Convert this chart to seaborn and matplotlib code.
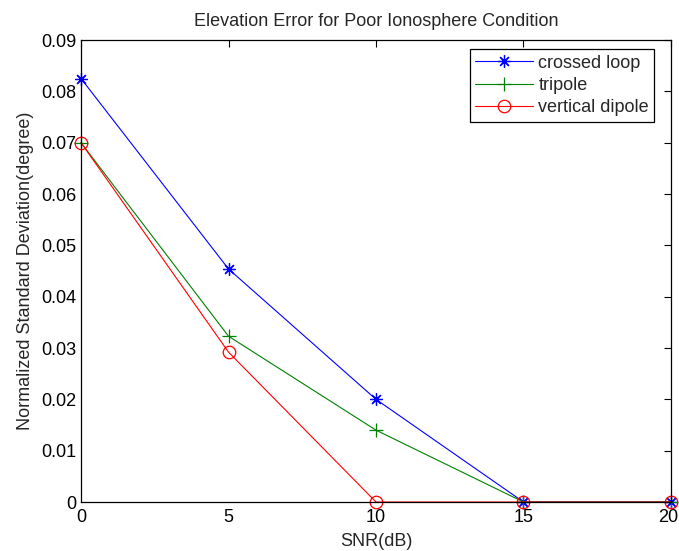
import matplotlib
matplotlib.use("Agg")
import matplotlib.pyplot as plt
import matplotlib.transforms as mtrans
import seaborn as sns
import pandas as pd

snr = [0, 5, 10, 15, 20]
crossed_loop = [0.0825, 0.0454, 0.0200, 0.0, 0.0]
tripole = [0.0700, 0.0323, 0.0140, 0.0, 0.0]
vertical_dipole = [0.0700, 0.0292, 0.0, 0.0, 0.0]
series_names = ["crossed loop", "tripole", "vertical dipole"]
xticks = [0, 5, 10, 15, 20]
yticks = [0, 0.01, 0.02, 0.03, 0.04, 0.05, 0.06, 0.07, 0.08, 0.09]

sns.set_style("white")
plt.rcParams['font.family'] = ['Liberation Sans', 'DejaVu Sans']

fig = plt.figure(figsize=(6.79, 5.51), dpi=100)
ax = fig.add_axes([0.1193, 0.0889, 0.8689, 0.8385])

styles = [("blue", (8, 2, 0), 9), ("green", "+", 10), ("red", "o", 9)]
for name, vals, (c, m, ms) in zip(series_names, [crossed_loop, tripole, vertical_dipole], styles):
    df = pd.DataFrame({"x": snr, "y": vals})
    sns.lineplot(data=df, x="x", y="y", ax=ax, color=c, marker=m, markersize=ms,
                 markerfacecolor="none", markeredgecolor=c, markeredgewidth=0.9,
                 linewidth=0.8, label=name, clip_on=False)

ax.set_xlim(0, 20)
ax.set_ylim(0, 0.09)
ax.set_xticks(xticks)
ax.set_yticks(yticks)
ax.set_yticklabels([("0" if v == 0 else f"{v:.2f}") for v in yticks])
ax.tick_params(direction="in", top=True, right=True, length=5, width=0.8, labelsize=13,
               colors="black")
ax.tick_params(axis="x", pad=5)
# keep the last x label inside the figure
last = ax.get_xticklabels()[-1]
last.set_transform(last.get_transform() + mtrans.ScaledTranslation(-3 / 100, 0, fig.dpi_scale_trans))
for s in ax.spines.values():
    s.set_color("black")
    s.set_linewidth(0.9)
ax.set_xlabel("SNR(dB)", fontsize=13, labelpad=5)
ax.set_ylabel("Normalized Standard Deviation(degree)", fontsize=13, labelpad=5)
ax.set_title("Elevation Error for Poor Ionosphere Condition", fontsize=13, pad=10)
leg = ax.legend(loc="upper right", bbox_to_anchor=(0.972, 0.98), fontsize=13, frameon=True,
                fancybox=False, edgecolor="black", framealpha=1, borderpad=0.3,
                handlelength=3.2, labelspacing=0.3, handletextpad=0.3, borderaxespad=0.0)
leg.get_frame().set_linewidth(0.9)
fig.savefig("out.png", dpi=100)
